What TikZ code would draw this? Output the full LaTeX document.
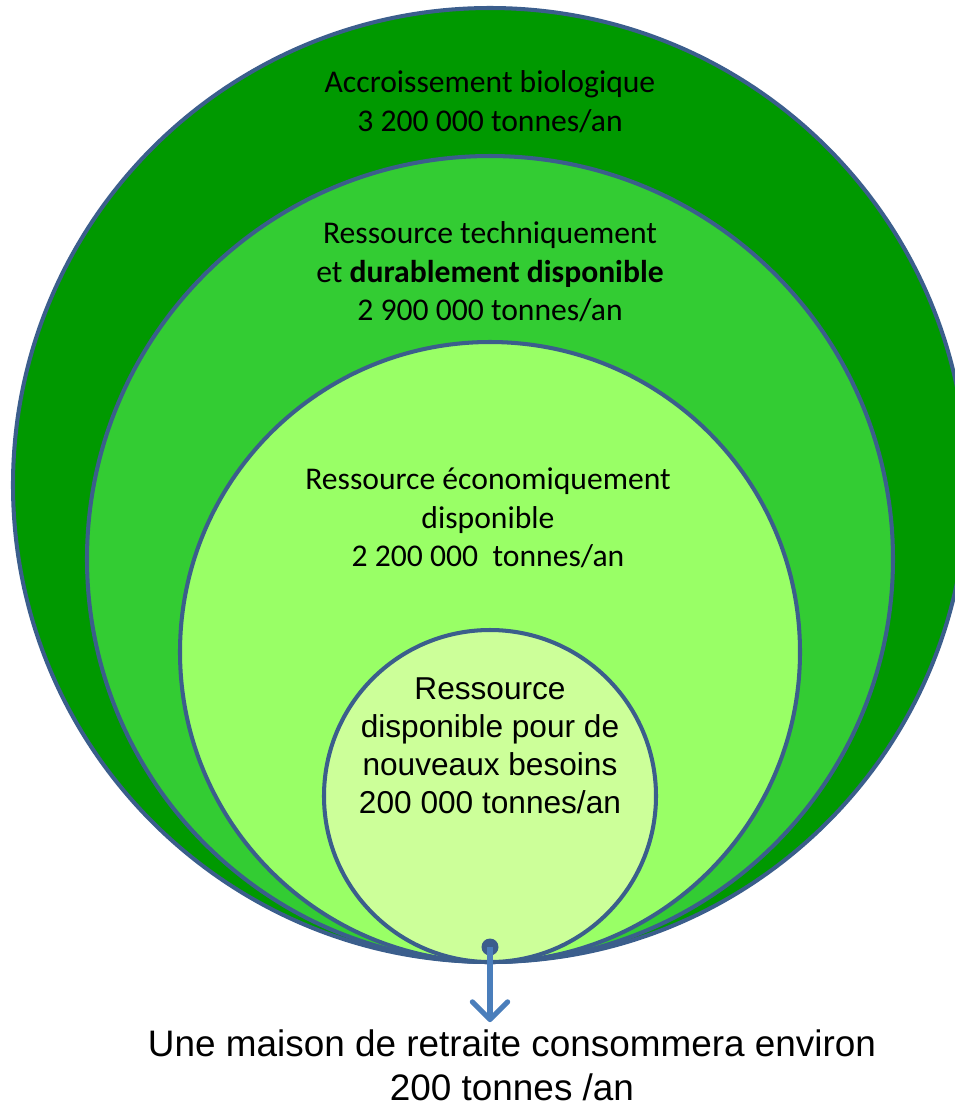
\documentclass[tikz,border=0pt]{standalone}
\usepackage{fontspec}
\setmainfont{Carlito}
\newfontfamily\arialfont{Liberation Sans}
\usetikzlibrary{arrows.meta}
\definecolor{biogreen}{HTML}{009900}
\definecolor{techgreen}{HTML}{33CC33}
\definecolor{ecogreen}{HTML}{99FF66}
\definecolor{newgreen}{HTML}{CCFF99}
\definecolor{rim}{HTML}{3B5E8C}
\definecolor{arrowblue}{HTML}{4A7EBB}

\begin{document}
\begin{tikzpicture}[x=.02cm,y=-.02cm,
  label/.style={align=center,inner sep=0pt,font=\fontsize{18}{22}\selectfont},
  arial/.style={align=center,inner sep=0pt,font=\arialfont\fontsize{18}{21.6}\selectfont}]
\useasboundingbox (0,0) rectangle (955,1107);
% nested resources, all touching at the bottom point
\foreach \r/\col in {477/biogreen,403/techgreen,310/ecogreen,166/newgreen}
 \filldraw[fill=\col,draw=rim,line width=2.3pt] (490,962-\r) circle[radius={\r*0.02cm}];
\node[label] (bio) at (490,102) {Accroissement biologique\\3 200 000 tonnes/an};
\node[label] (tech) at (490,272) {Ressource techniquement\\et \textbf{durablement disponible}\\2 900 000 tonnes/an};
\node[label] (eco) at (488,518) {Ressource économiquement\\disponible\\2 200 000\ \ tonnes/an};
\node[arial] (new) at (490,746) {Ressource\\disponible pour de\\nouveaux besoins\\200 000 tonnes/an};
\node[circle,fill=rim,inner sep=0pt,minimum size=3.4mm] (src) at (490,947) {};
\node[align=center,inner sep=0pt,font=\arialfont\fontsize{21}{25}\selectfont] (note) at (512,1065)
 {Une maison de retraite consommera environ\\200 tonnes /an};
\draw[arrowblue,line width=3pt,shorten >=4pt,-{Straight Barb[length=10pt,width=20pt,round]}]
 (src.center) -- (src.center |- note.north);
\end{tikzpicture}
\end{document}
